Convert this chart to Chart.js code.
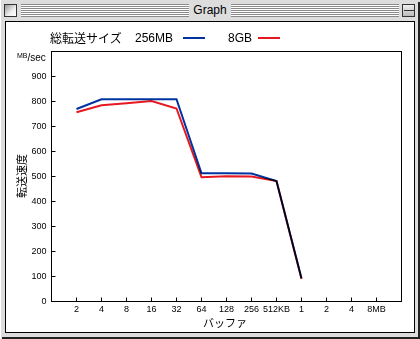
<!DOCTYPE html>
<html>
<head>
<meta charset="utf-8">
<script src="https://cdn.jsdelivr.net/npm/chart.js@4.4.0/dist/chart.umd.min.js"></script>
<style>
  body { margin:0; }
  #win { position:relative; width:420px; height:339px; background:#dddddd; overflow:hidden; font-family:"Liberation Sans","Noto Sans CJK JP",sans-serif; }
  .abs { position:absolute; white-space:nowrap; }
  .stripes { position:absolute; top:4px; height:13px; background:repeating-linear-gradient(to bottom,#8a8a8a 0 1px,#ffffff 1px 2px); }
  .box { position:absolute; top:4px; width:11px; height:11px; border:1px solid #333; background:linear-gradient(135deg,#999,#eee 60%,#fff); }
</style>
</head>
<body>
<div id="win">
  <!-- window chrome -->
  <div class="abs" style="left:0;top:0;width:1px;height:339px;background:#fff"></div>
  <div class="abs" style="left:418px;top:2px;width:2px;height:337px;background:#222"></div>
  <div class="abs" style="left:2px;top:337px;width:418px;height:2px;background:#222"></div>
  <div class="box" style="left:4px"></div>
  <div class="stripes" style="left:21px;width:168px"></div>
  <div class="abs" style="left:188px;top:2px;width:44px;height:17px;line-height:17px;text-align:center;font-size:12px;color:#000">Graph</div>
  <div class="stripes" style="left:231px;width:168px"></div>
  <div class="box" style="left:402px;background:linear-gradient(#eee,#bbb)"></div>
  <div class="abs" style="left:404px;top:10px;width:10px;height:1px;background:#333"></div>
  <div class="abs" style="left:5px;top:21px;width:408px;height:310px;border:1px solid #000;background:#fff"></div>

  <canvas id="chart" width="420" height="339" style="position:absolute;left:0;top:0"></canvas>

  <!-- legend -->
  <span class="abs" style="left:50px;top:30px;line-height:16px;font-size:12px;font-family:'Noto Sans CJK JP'">総転送サイズ</span>
  <span class="abs" style="left:135px;top:30px;line-height:16px;font-size:12px">256MB</span>
  <div class="abs" style="left:183px;top:37px;width:22px;height:2px;background:#0033a0"></div>
  <span class="abs" style="left:228px;top:30px;line-height:16px;font-size:12px">8GB</span>
  <div class="abs" style="left:258px;top:37px;width:22px;height:2px;background:#e81820"></div>

  <!-- axis titles -->
  <span class="abs" style="left:17px;top:50px;font-size:10px;line-height:11px"><span style="font-size:7px;vertical-align:3px">MB</span>/sec</span>
  <span class="abs" style="left:21px;top:176px;transform:translate(-50%,-50%) rotate(-90deg);font-size:11px;font-family:'Noto Sans CJK JP'">転送速度</span>
  <span class="abs" style="left:225px;top:322px;transform:translate(-50%,-50%);font-size:11px;font-family:'Noto Sans CJK JP'">バッファ</span>
</div>

<script>
// buffer sizes along the bottom
const bufferLabels = ['2', '4', '8', '16', '32', '64', '128', '256', '512KB', '1', '2', '4', '8MB'];
// MB/sec, one value per buffer size from 2KB to 1MB
const speed256MB = [770, 809, 809, 809, 809, 513, 513, 512, 482, 93];
const speed8GB = [757, 785, 793, 802, 772, 497, 501, 500, 482, 90];
const yTickValues = [0, 100, 200, 300, 400, 500, 600, 700, 800, 900];

const toPoints = arr => arr.map((v, i) => ({ x: i, y: v }));

// box round the plot and small ticks pointing inward
const frame = {
  id: 'frame',
  beforeDatasetsDraw(chart) {
    chart.ctx.save();
    chart.ctx.globalCompositeOperation = 'multiply';
  },
  afterDatasetsDraw(chart) {
    chart.ctx.restore();
  },
  afterDraw(chart) {
    const { ctx, chartArea: a, scales } = chart;
    ctx.save();
    ctx.strokeStyle = '#000';
    ctx.lineWidth = 1;
    ctx.strokeRect(a.left, a.top, a.right - a.left, a.bottom - a.top);
    ctx.beginPath();
    yTickValues.forEach(v => {
      const y = scales.y.getPixelForValue(v);
      ctx.moveTo(a.left, y);
      ctx.lineTo(a.left + 4, y);
    });
    bufferLabels.forEach((_, i) => {
      const x = scales.x.getPixelForValue(i);
      ctx.moveTo(x, a.bottom);
      ctx.lineTo(x, a.bottom - 4);
    });
    ctx.stroke();
    ctx.restore();
  }
};

new Chart(document.getElementById('chart'), {
  type: 'line',
  data: {
    datasets: [
      { label: '256MB', data: toPoints(speed256MB), borderColor: '#0033a0', borderWidth: 2, pointRadius: 0, tension: 0, fill: false },
      { label: '8GB', data: toPoints(speed8GB), borderColor: '#e81820', borderWidth: 2, pointRadius: 0, tension: 0, fill: false }
    ]
  },
  options: {
    responsive: false,
    animation: false,
    events: [],
    layout: { padding: { top: 51.5, right: 18.5, left: 0, bottom: 0 } },
    plugins: { legend: { display: false }, title: { display: false }, tooltip: { enabled: false } },
    scales: {
      x: {
        type: 'linear', min: -1, max: 13,
        afterBuildTicks: s => { s.ticks = bufferLabels.map((_, i) => ({ value: i })); },
        afterFit: s => { s.height = 37.5; },
        ticks: {
          autoSkip: false, maxRotation: 0, padding: 3, color: '#000',
          font: { family: 'Liberation Sans', size: 9 },
          callback: v => bufferLabels[v] ?? ''
        },
        grid: { display: false, drawTicks: false },
        border: { display: false }
      },
      y: {
        min: 0, max: 1000,
        afterBuildTicks: s => { s.ticks = yTickValues.map(v => ({ value: v })); },
        afterFit: s => { s.width = 51.5; },
        ticks: {
          padding: 5, color: '#000',
          font: { family: 'Liberation Sans', size: 9 }
        },
        grid: { display: false, drawTicks: false },
        border: { display: false }
      }
    }
  },
  plugins: [frame]
});
</script>
</body>
</html>
